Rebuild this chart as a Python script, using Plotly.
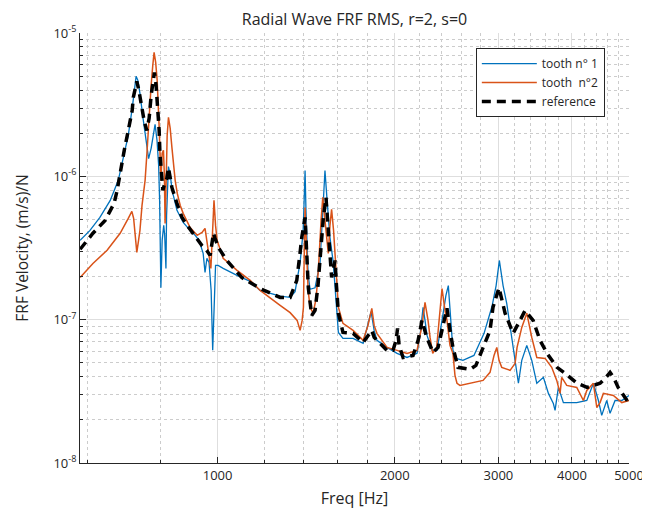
import plotly.graph_objects as go

# ---------------- data ----------------
freq_tooth1 = [584, 607, 631, 657, 678, 694, 705, 716, 723, 727, 732, 738, 747, 756, 763.5, 771, 778, 783,
               789, 794, 797, 801, 805, 810, 813, 817, 819, 823, 825, 831, 837, 853, 874, 898, 916, 930,
               945, 952, 959, 967, 975, 981, 986, 992, 1002, 1022, 1079, 1136, 1181, 1277, 1328, 1354,
               1381, 1397, 1403, 1408, 1413, 1417, 1425, 1436, 1464, 1493, 1511, 1522, 1536, 1552, 1572,
               1593, 1604, 1633, 1699, 1767, 1801, 1823, 1845, 1865, 1940, 2018, 2098, 2182, 2208, 2234,
               2251, 2269, 2314, 2359, 2406, 2443, 2466, 2492, 2511, 2541, 2611, 2726, 2836, 2926, 2973,
               3011, 3055, 3099, 3140, 3181, 3214, 3244, 3287, 3352, 3418, 3486, 3577, 3648, 3719, 3744,
               3793, 3868, 3971, 4076, 4239, 4350, 4436, 4494, 4583, 4643, 4735, 4861, 5000]
frf_tooth1 = [3.58e-7, 4.20e-7, 5.17e-7, 6.80e-7, 9.38e-7, 1.40e-6, 1.93e-6, 2.98e-6, 4.11e-6, 4.99e-6,
              4.68e-6, 3.79e-6, 2.54e-6, 1.72e-6, 1.33e-6, 1.57e-6, 1.99e-6, 2.31e-6,
              1.78e-6, 1.19e-6, 6.80e-7, 1.67e-7, 3.58e-7, 4.55e-7, 3.88e-7, 2.28e-7, 5.34e-7, 9.38e-7,
              1.17e-6, 1.02e-6, 7.98e-7, 5.79e-7, 4.77e-7, 4.20e-7, 3.88e-7, 3.58e-7,
              2.90e-7, 2.14e-7, 2.68e-7, 2.51e-7, 1.60e-7, 6.11e-8, 1.36e-7, 2.39e-7, 2.39e-7, 2.28e-7,
              2.04e-7, 1.85e-7, 1.60e-7, 1.46e-7, 1.43e-7, 1.57e-7,
              2.51e-7, 4.07e-7, 6.80e-7, 1.10e-6, 5.79e-7, 3.58e-7, 2.04e-7, 1.63e-7, 1.67e-7, 2.51e-7,
              7.37e-7, 1.10e-6, 6.48e-7, 3.76e-7, 2.51e-7,
              1.26e-7, 8.15e-8, 7.41e-8, 7.41e-8, 6.84e-8, 9.12e-8, 1.14e-7, 8.42e-8, 7.17e-8, 6.41e-8,
              5.82e-8, 5.45e-8, 5.82e-8, 7.77e-8, 1.22e-7,
              9.89e-8, 7.77e-8, 6.11e-8, 6.11e-8, 9.89e-8, 1.48e-7, 1.73e-7, 9.89e-8, 6.11e-8, 5.37e-8,
              5.20e-8, 5.63e-8, 8.03e-8, 1.24e-7, 1.73e-7,
              2.59e-7, 1.73e-7, 1.30e-7, 9.12e-8, 6.41e-8, 4.58e-8, 3.60e-8, 5.20e-8, 6.62e-8, 5.20e-8,
              3.60e-8, 3.96e-8, 3.06e-8, 2.60e-8, 2.33e-8,
              3.37e-8, 2.64e-8, 2.64e-8, 2.64e-8, 2.73e-8, 3.60e-8, 2.73e-8, 2.15e-8, 2.73e-8, 2.22e-8,
              2.73e-8, 2.73e-8, 2.96e-8]

freq_tooth2 = [584, 614, 649, 683, 705, 715, 720, 729, 734, 738, 744, 753, 759, 765, 771, 776, 780, 784.8,
               789.4, 795.6, 800.9, 805, 809.1, 812, 814.3, 817.7, 820.9, 825.1, 830.7, 836.2, 847, 854,
               864, 874, 898, 923, 941, 952, 961, 969, 974, 979, 982, 986, 992, 998, 1022, 1079, 1136,
               1181, 1277, 1328, 1365, 1381, 1392, 1399, 1403, 1408, 1417, 1425, 1436, 1453, 1470, 1483,
               1499, 1509, 1522, 1534, 1542, 1552, 1562, 1574, 1583, 1604, 1633, 1699, 1767, 1801, 1828,
               1845, 1865, 1940, 2018, 2098, 2182, 2225, 2251, 2278, 2296, 2320, 2356, 2387, 2406, 2434,
               2453, 2482, 2511, 2531, 2551, 2581, 2684, 2825, 2903, 2949, 2981, 3007, 3039, 3140, 3202,
               3227, 3287, 3352, 3418, 3486, 3601, 3695, 3769, 3818, 3843, 3919, 4076, 4183, 4239, 4350,
               4408, 4465, 4523, 4703, 4861, 5000]
frf_tooth2 = [1.97e-7, 2.47e-7, 3.05e-7, 4.01e-7, 5.09e-7, 5.70e-7, 5.09e-7, 2.95e-7, 3.58e-7, 4.20e-7,
              6.27e-7, 9.38e-7, 1.52e-6, 2.67e-6, 4.32e-6, 5.95e-6, 7.33e-6, 6.24e-6,
              4.68e-6, 2.20e-6, 9.38e-7, 1.45e-6, 1.52e-6, 1.02e-6, 4.70e-7, 9.38e-7, 1.93e-6, 2.58e-6,
              2.16e-6, 1.60e-6, 9.38e-7, 7.61e-7,
              6.27e-7, 5.52e-7, 4.40e-7, 3.88e-7, 4.07e-7, 4.34e-7, 3.30e-7, 2.51e-7, 2.28e-7, 3.58e-7,
              5.34e-7, 6.80e-7, 4.55e-7, 3.58e-7, 2.68e-7, 2.21e-7, 1.88e-7,
              1.60e-7, 1.26e-7, 1.12e-7, 9.89e-8, 8.42e-8, 9.89e-8, 1.22e-7, 2.59e-7, 6.07e-7, 2.90e-7,
              1.60e-7, 1.22e-7, 1.11e-7, 1.40e-7, 2.21e-7,
              4.93e-7, 7.13e-7, 4.93e-7, 3.30e-7, 2.90e-7, 4.55e-7, 5.88e-7, 4.20e-7, 2.90e-7, 1.22e-7,
              9.42e-8, 8.42e-8, 7.17e-8, 9.12e-8, 1.20e-7,
              9.12e-8, 8.03e-8, 6.41e-8, 6.11e-8, 5.82e-8, 6.11e-8, 9.12e-8, 1.32e-7, 9.89e-8, 7.52e-8,
              5.82e-8, 6.41e-8, 1.16e-7, 1.65e-7, 1.16e-7,
              9.89e-8, 6.62e-8, 5.82e-8, 4.09e-8, 3.60e-8, 3.48e-8, 3.60e-8, 3.77e-8, 4.29e-8, 5.63e-8,
              6.41e-8, 5.20e-8, 4.65e-8, 4.43e-8, 4.96e-8,
              6.41e-8, 8.83e-8, 1.11e-7, 7.52e-8, 5.45e-8, 5.37e-8, 4.65e-8, 3.77e-8, 3.06e-8, 3.96e-8,
              3.48e-8, 3.37e-8, 2.73e-8, 3.21e-8, 3.60e-8,
              2.44e-8, 2.64e-8, 3.06e-8, 2.96e-8, 2.64e-8, 2.73e-8]

freq_ref = [584, 614, 644, 667, 675, 683, 694, 705, 716, 719, 729, 735, 743, 750, 758, 765, 771, 777, 781,
            786, 790.3, 795.6, 798, 803.5, 807.2, 811.3, 820, 825.1, 830.7, 836.2, 852.8, 870, 888, 909,
            940, 958, 971, 977, 984, 990, 1003, 1037, 1099, 1181, 1277, 1328, 1363, 1381, 1390, 1408,
            1416, 1426, 1445, 1464, 1481, 1493, 1511, 1528, 1542, 1552, 1562, 1574, 1583, 1592, 1604,
            1633, 1699, 1767, 1801, 1828, 1845, 1865, 1940, 1986, 2010, 2022, 2034, 2066, 2148, 2191,
            2225, 2266, 2323, 2369, 2415, 2453, 2482, 2511, 2561, 2684, 2747, 2825, 2903, 2937, 3007,
            3079, 3177, 3265, 3330, 3436, 3531, 3629, 3773, 3893, 4081, 4244, 4345, 4465, 4571, 4643,
            4717, 4792, 4962, 5000]
frf_ref = [3.10e-7, 4.01e-7, 4.93e-7, 6.48e-7, 7.98e-7, 1.065e-6, 1.52e-6, 2.09e-6, 2.89e-6, 3.55e-6,
           4.61e-6, 3.98e-6, 3.03e-6, 2.46e-6, 2.09e-6, 2.54e-6, 3.67e-6, 4.83e-6, 5.30e-6,
           4.32e-6, 3.23e-6, 2.09e-6, 1.45e-6, 1.02e-6, 7.98e-7, 8.65e-7, 9.69e-7, 1.15e-6, 9.87e-7,
           8.37e-7, 6.48e-7, 5.17e-7, 4.55e-7, 4.01e-7,
           3.30e-7, 3.05e-7, 2.81e-7, 3.30e-7, 4.01e-7, 3.70e-7, 3.19e-7, 2.59e-7, 1.97e-7, 1.65e-7,
           1.43e-7, 1.43e-7, 1.88e-7, 2.95e-7, 3.76e-7, 5.17e-7,
           3.05e-7, 1.67e-7, 1.07e-7, 1.16e-7, 1.73e-7, 2.59e-7, 4.93e-7, 7.13e-7, 4.40e-7, 2.81e-7,
           1.97e-7, 2.28e-7, 2.59e-7, 1.73e-7, 1.11e-7,
           8.15e-8, 8.03e-8, 6.94e-8, 7.77e-8, 8.42e-8, 7.52e-8, 7.17e-8, 6.11e-8, 6.11e-8, 7.17e-8,
           8.70e-8, 6.62e-8, 5.45e-8, 5.63e-8, 7.17e-8,
           9.89e-8, 7.52e-8, 5.91e-8, 6.41e-8, 9.12e-8, 1.20e-7, 8.42e-8, 6.41e-8, 4.65e-8, 4.50e-8,
           4.80e-8, 6.41e-8, 8.42e-8, 1.22e-7, 1.67e-7,
           1.11e-7, 8.03e-8, 9.89e-8, 1.16e-7, 9.89e-8, 7.17e-8, 5.82e-8, 4.65e-8, 4.22e-8, 3.60e-8,
           3.37e-8, 3.48e-8, 3.60e-8, 3.96e-8, 4.29e-8,
           3.89e-8, 3.37e-8, 2.73e-8, 2.96e-8]

x_tick_vals = [1000, 2000, 3000, 4000, 5000]
x_tick_text = ["1000", "2000", "3000", "4000", "5000"]
x_minor_vals = [600, 800, 1200, 1400, 1600, 1800, 2200, 2400, 2600, 2800, 3200, 3400, 3600, 3800,
                4200, 4400, 4600, 4800]
y_tick_vals = [1e-8, 1e-7, 1e-6, 1e-5]
y_tick_text = ["10<sup>-8</sup>", "10<sup>-7</sup>", "10<sup>-6</sup>", "10<sup>-5</sup>"]
y_minor_vals = [k * 10.0 ** e for e in (-8, -7, -6) for k in range(2, 10)]

# ---------------- figure ----------------
FONT = "Open Sans"
TXT = "#262626"
# the page body adds an 8 px margin, so the figure is drawn 8 px smaller/shifted
W, H = 642, 507

fig = go.Figure()
fig.add_trace(go.Scatter(x=freq_tooth1, y=frf_tooth1, mode="lines", name="tooth n° 1",
                         line=dict(color="#0072BD", width=1.3)))
fig.add_trace(go.Scatter(x=freq_tooth2, y=frf_tooth2, mode="lines", name="tooth\u00a0\u00a0n°2",
                         line=dict(color="#D95319", width=1.5)))
fig.add_trace(go.Scatter(x=freq_ref, y=frf_ref, mode="lines", name="reference",
                         line=dict(color="black", width=3.5, dash="9px,6px")))

axis_common = dict(
    showline=True, linecolor=TXT, linewidth=1, mirror=False,
    ticks="inside", ticklen=6, tickcolor=TXT, tickwidth=1,
    showgrid=True, gridcolor="#dedede", gridwidth=1,
    tickfont=dict(family=FONT, size=13, color=TXT),
    zeroline=False, automargin=False,
)

fig.update_layout(
    template="none",
    width=W, height=H,
    paper_bgcolor="white", plot_bgcolor="white",
    margin=dict(l=72, r=21, t=25, b=52, pad=0),
    font=dict(family=FONT, color=TXT),
    title=dict(text="Radial Wave FRF RMS, r=2, s=0", x=0.5, xref="paper", xanchor="center",
               y=1 - 6 / H, yref="container", yanchor="top",
               font=dict(family=FONT, size=16, color=TXT)),
    xaxis=dict(type="log", range=[2.7662, 3.69897],
               tickmode="array", tickvals=x_tick_vals, ticktext=x_tick_text,
               title=dict(text="Freq [Hz]", font=dict(family=FONT, size=16, color=TXT), standoff=10),
               minor=dict(tickmode="array", tickvals=x_minor_vals, ticks="inside", ticklen=3,
                          tickcolor=TXT, showgrid=True, gridcolor="#cccccc", griddash="dot", gridwidth=1),
               **axis_common),
    yaxis=dict(type="log", range=[-8, -4.9995],
               tickmode="array", tickvals=y_tick_vals, ticktext=y_tick_text,
               title=dict(text="FRF Velocity, (m/s)/N", font=dict(family=FONT, size=15.5, color=TXT),
                          standoff=20),
               minor=dict(tickmode="array", tickvals=y_minor_vals, ticks="inside", ticklen=3,
                          tickcolor=TXT, showgrid=True, gridcolor="#cccccc", griddash="dot", gridwidth=1),
               **axis_common),
    legend=dict(x=0.721, y=0.965, xanchor="left", yanchor="top",
                bgcolor="white", bordercolor=TXT, borderwidth=1,
                font=dict(family=FONT, size=12, color=TXT),
                tracegroupgap=0, itemwidth=55),
    showlegend=True,
)

fig.write_html("out.html")
